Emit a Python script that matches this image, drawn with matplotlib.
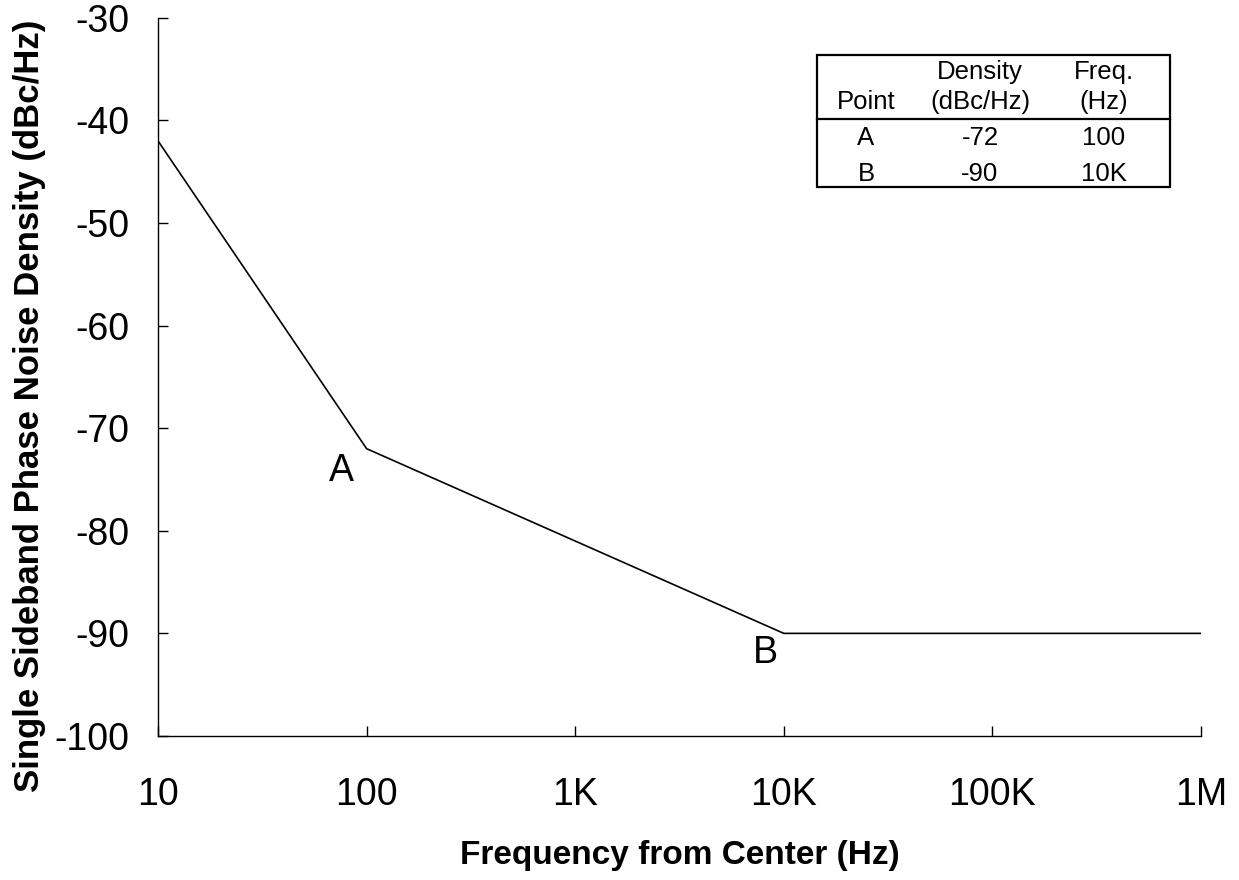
import matplotlib
matplotlib.use("Agg")
import matplotlib.pyplot as plt
from matplotlib.lines import Line2D
from matplotlib.patches import Rectangle

# Data
freq_hz = [10, 100, 10000, 1000000]
density_dbc = [-42, -72, -90, -90]
x_ticks = [10, 100, 1000, 10000, 100000, 1000000]
x_tick_labels = ["10", "100", "1K", "10K", "100K", "1M"]
y_ticks = [-100, -90, -80, -70, -60, -50, -40, -30]
point_names = ["A", "B"]
point_freq = [100, 10000]
point_density = [-72, -90]
table_header_top = ["", "Density", "Freq."]
table_header_bottom = ["Point", "(dBc/Hz)", "(Hz)"]
table_density = ["-72", "-90"]
table_freq = ["100", "10K"]

plt.rcParams['font.family'] = ['Liberation Sans', 'DejaVu Sans']
plt.rcParams['axes.unicode_minus'] = False

W, H = 1239, 880
fig = plt.figure(figsize=(W / 100, H / 100), dpi=100)
AX_L, AX_R, AX_T, AX_B = 158, 1201, 17.7, 736
ax = fig.add_axes([AX_L / W, 1 - AX_B / H, (AX_R - AX_L) / W, (AX_B - AX_T) / H])

ax.plot(freq_hz, density_dbc, color='black', lw=1.2)
ax.set_xscale('log')
ax.set_xlim(10, 1e6)
ax.set_ylim(-100, -30)
ax.set_xticks(x_ticks)
ax.set_xticklabels(x_tick_labels)
ax.minorticks_off()
ax.set_yticks(y_ticks)
ax.tick_params(axis='both', direction='in', length=7.5, width=1, labelsize=27, color='black')
ax.tick_params(axis='x', pad=29.5)
ax.tick_params(axis='y', pad=20.5)
for s in ['top', 'right']:
    ax.spines[s].set_visible(False)
for s in ['left', 'bottom']:
    ax.spines[s].set_linewidth(1)

def ax_x(px):
    return (px - AX_L) / (AX_R - AX_L)
def ax_y(py):
    return (AX_B - py) / (AX_B - AX_T)

ax.set_xlabel("Frequency from Center (Hz)", fontsize=24, fontweight='bold')
ax.xaxis.set_label_coords(ax_x(680), ax_y(840))
ax.set_ylabel("Single Sideband Phase Noise Density (dBc/Hz)", fontsize=25, fontweight='bold')
ax.yaxis.set_label_coords(ax_x(46), ax_y(406))

# point labels (offset from their points)
label_offsets = [(10 ** -0.123, -2.2), (10 ** -0.09, -1.9)]
for name, f, d, (fx, dy) in zip(point_names, point_freq, point_density, label_offsets):
    ax.text(f * fx, d + dy, name, fontsize=27, ha='center', va='center')

# table (axes coordinates)
x0, x1 = ax_x(817), ax_x(1170)
y0, y1 = ax_y(187), ax_y(55)
ax.add_patch(Rectangle((x0, y0), x1 - x0, y1 - y0, transform=ax.transAxes,
                       fill=False, edgecolor='black', lw=1.6, clip_on=False))
ax.add_line(Line2D([x0, x1], [ax_y(119), ax_y(119)], transform=ax.transAxes,
                   color='black', lw=1.6, clip_on=False))
col_x = [ax_x(866), ax_x(980), ax_x(1104)]
fs = 18.5
for cx, t in zip(col_x, table_header_top):
    ax.text(cx, ax_y(72), t, transform=ax.transAxes, ha='center', va='center', fontsize=fs)
for cx, t in zip(col_x, table_header_bottom):
    ax.text(cx, ax_y(102), t, transform=ax.transAxes, ha='center', va='center', fontsize=fs)
for ry, name, dd, ff in zip([ax_y(138), ax_y(174)], point_names, table_density, table_freq):
    ax.text(col_x[0], ry, name, transform=ax.transAxes, ha='center', va='center', fontsize=fs)
    ax.text(col_x[1], ry, dd, transform=ax.transAxes, ha='center', va='center', fontsize=fs)
    ax.text(col_x[2], ry, ff, transform=ax.transAxes, ha='center', va='center', fontsize=fs)

fig.savefig("out.png", dpi=100)
